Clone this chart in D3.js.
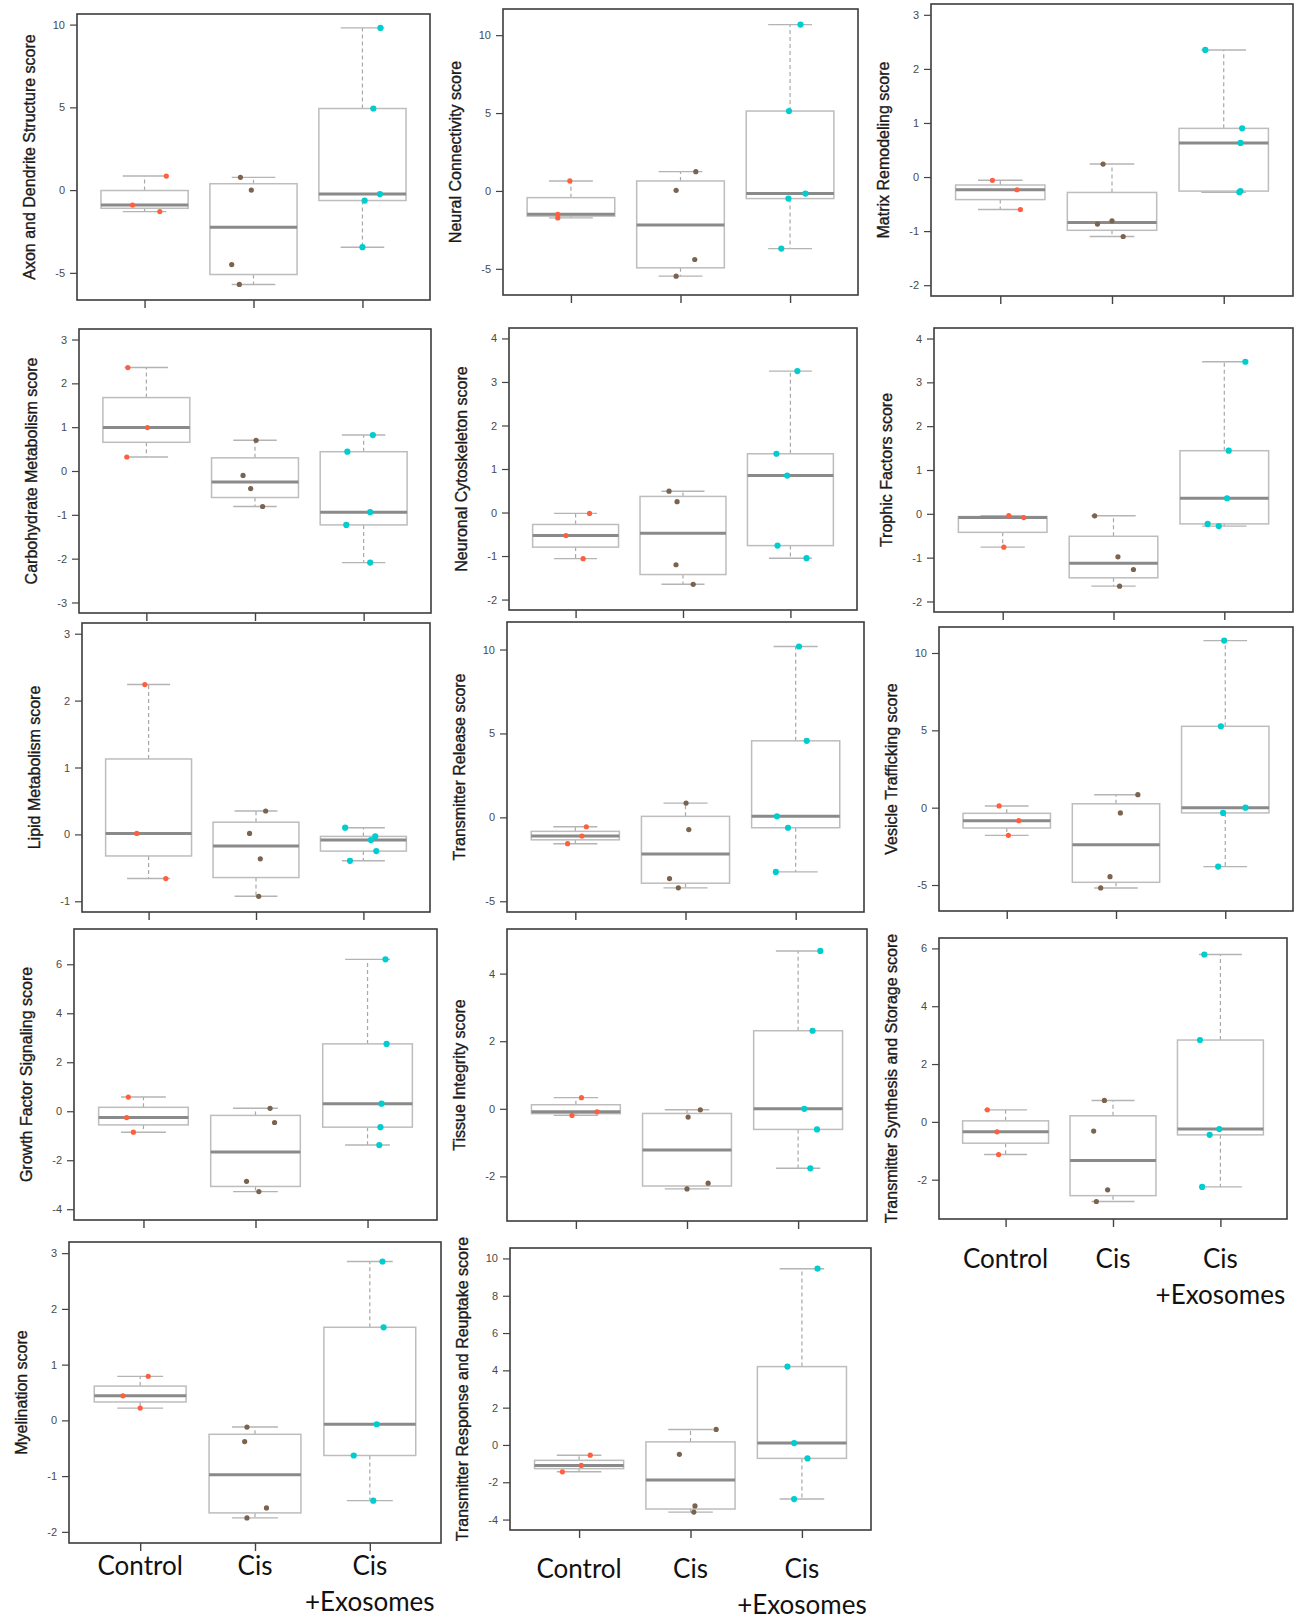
<!DOCTYPE html>
<html>
<head>
<meta charset="utf-8">
<script src="https://cdn.jsdelivr.net/npm/d3@7"></script>
<style>
  body { margin: 0; background: #fff; }
  svg { display: block; }
</style>
</head>
<body>
<svg id="chart" width="1298" height="1621"></svg>
<script>
// groups on the x axis (same three in every panel)
const groups = ["Control", "Cis", "Cis+Exosomes"];

const scoreNames = [
  "Axon and Dendrite Structure score",
  "Neural Connectivity score",
  "Matrix Remodeling score",
  "Carbohydrate Metabolism score",
  "Neuronal Cytoskeleton score",
  "Trophic Factors score",
  "Lipid Metabolism score",
  "Transmitter Release score",
  "Vesicle Trafficking score",
  "Growth Factor Signaling score",
  "Tissue Integrity score",
  "Transmitter Synthesis and Storage score",
  "Myelination score",
  "Transmitter Response and Reuptake score"
];

// ylim used by each panel (R pads these by 4%)
const yLimits = [
  [-6, 10], [-6, 11], [-2, 3],
  [-3, 3], [-2, 4], [-2, 4],
  [-1, 3], [-5, 11], [-6, 11],
  [-4, 7], [-3, 5], [-3, 6],
  [-2, 3], [-4, 10]
];

const yTicks = [
  [-5, 0, 5, 10], [-5, 0, 5, 10], [-2, -1, 0, 1, 2, 3],
  [-3, -2, -1, 0, 1, 2, 3], [-2, -1, 0, 1, 2, 3, 4], [-2, -1, 0, 1, 2, 3, 4],
  [-1, 0, 1, 2, 3], [-5, 0, 5, 10], [-5, 0, 5, 10],
  [-4, -2, 0, 2, 4, 6], [-2, 0, 2, 4], [-2, 0, 2, 4, 6],
  [-2, -1, 0, 1, 2, 3], [-4, -2, 0, 2, 4, 6, 8, 10]
];

// sample scores per panel
const controlScores = [
  [0.85, -0.9, -1.3],
  [0.64, -1.5, -1.73],
  [-0.06, -0.235, -0.6],
  [2.36, 0.99, 0.32],
  [-0.02, -0.53, -1.06],
  [-0.04, -0.085, -0.76],
  [2.24, 0.015, -0.66],
  [-0.56, -1.11, -1.57],
  [0.11, -0.84, -1.79],
  [0.58, -0.26, -0.855],
  [0.33, -0.09, -0.195],
  [0.415, -0.345, -1.13],
  [0.79, 0.44, 0.22],
  [-0.55, -1.1, -1.44]
];
const cisScores = [
  [0.77, 0.0, -4.5, -5.7],
  [1.24, 0.04, -4.4, -5.47],
  [0.24, -0.81, -0.87, -1.1],
  [0.70, -0.10, -0.40, -0.81],
  [0.49, 0.25, -1.2, -1.65],
  [-0.045, -0.98, -1.27, -1.65],
  [0.35, 0.015, -0.365, -0.925],
  [0.85, -0.73, -3.65, -4.2],
  [0.84, -0.34, -4.46, -5.19],
  [0.12, -0.46, -2.86, -3.28],
  [-0.03, -0.245, -2.2, -2.37],
  [0.74, -0.32, -2.35, -2.755],
  [-0.12, -0.38, -1.57, -1.75],
  [0.83, -0.5, -3.27, -3.6]
];
const exoScores = [
  [9.8, 4.93, -0.24, -0.63, -3.45],
  [10.68, 5.13, -0.17, -0.49, -3.7],
  [2.35, 0.9, 0.63, -0.26, -0.28],
  [0.82, 0.44, -0.94, -1.23, -2.09],
  [3.25, 1.35, 0.85, -0.76, -1.05],
  [3.47, 1.44, 0.355, -0.23, -0.28],
  [0.1, -0.03, -0.085, -0.25, -0.395],
  [10.18, 4.56, 0.06, -0.62, -3.25],
  [10.8, 5.26, 0.0, -0.34, -3.81],
  [6.2, 2.75, 0.31, -0.65, -1.38],
  [4.67, 2.31, 0.0, -0.61, -1.76],
  [5.79, 2.83, -0.25, -0.45, -2.25],
  [2.85, 1.67, -0.07, -0.63, -1.44],
  [9.45, 4.2, 0.1, -0.72, -2.9]
];

// stripchart jitter, in group units, read per point
const controlJitter = [
  [0.2, -0.11, 0.14], [-0.01, -0.12, -0.12], [-0.07, 0.15, 0.18],
  [-0.17, 0.01, -0.18], [0.13, -0.09, 0.07], [0.055, 0.19, 0.01],
  [-0.035, -0.11, 0.16], [0.1, 0.06, -0.07], [-0.07, 0.11, 0.015],
  [-0.135, -0.15, -0.09], [0.05, 0.19, -0.035], [-0.17, -0.08, -0.065],
  [0.07, -0.15, 0.0], [0.1, 0.02, -0.15]
];
const cisJitter = [
  [-0.12, -0.02, -0.2, -0.13], [0.14, -0.04, 0.13, -0.04], [-0.08, 0.0, -0.13, 0.1],
  [0.01, -0.11, -0.04, 0.07], [-0.13, -0.055, -0.065, 0.095], [-0.17, 0.04, 0.18, 0.055],
  [0.09, -0.06, 0.04, 0.025], [0.005, 0.03, -0.145, -0.065], [0.2, 0.04, -0.055, -0.14],
  [0.13, 0.17, -0.08, 0.03], [0.12, 0.01, 0.19, 0.0], [-0.08, -0.18, -0.05, -0.155],
  [-0.07, -0.09, 0.1, -0.07], [0.23, -0.1, 0.04, 0.03]
];
const exoJitter = [
  [0.165, 0.10, 0.16, 0.02, 0.0], [0.095, -0.01, 0.14, -0.015, -0.08], [-0.165, 0.165, 0.15, 0.15, 0.14],
  [0.085, -0.15, 0.06, -0.16, 0.06], [0.065, -0.13, -0.03, -0.12, 0.15], [0.19, 0.04, 0.025, -0.15, -0.05],
  [-0.17, 0.11, 0.07, 0.12, -0.125], [0.03, 0.1, -0.17, -0.07, -0.18], [-0.01, -0.04, 0.185, -0.02, -0.065],
  [0.16, 0.17, 0.125, 0.115, 0.105], [0.2, 0.13, 0.055, 0.17, 0.11], [-0.15, -0.19, -0.01, -0.1, -0.17],
  [0.11, 0.12, 0.06, -0.14, 0.03], [0.14, -0.13, -0.07, 0.05, -0.07]
];

const groupColors = ["#ff5f3f", "#7a634f", "#00cdd0"];
const dotRadius = [2.6, 2.6, 3.1];

// layout: plot frame of every panel [left, top, right, bottom]
const frames = [
  [77, 14, 430, 300], [503, 9, 858, 295], [931, 4, 1293, 296],
  [79, 329, 431, 613], [509, 328, 857, 610], [934, 328, 1293, 612],
  [82, 623, 430, 912], [507, 622, 864, 912], [939, 627, 1293, 911],
  [74, 929, 437, 1220], [507, 929, 867, 1221], [939, 938, 1287, 1219],
  [69, 1242, 441, 1543], [510, 1248, 871, 1530]
];
// panels that carry the group names underneath, with baseline offset
const groupLabelOffset = { 11: 49, 12: 32, 13: 48 };

const svg = d3.select("#chart");

// R's fivenum + boxplot.stats whisker rule
function boxStats(values) {
  const s = values.slice().sort((a, b) => a - b);
  const n = s.length;
  const n4 = Math.floor((n + 3) / 2) / 2;
  const d = [1, n4, (n + 1) / 2, n + 1 - n4, n];
  const f = d.map(k => 0.5 * (s[Math.floor(k) - 1] + s[Math.ceil(k) - 1]));
  const iqr = f[3] - f[1];
  const lo = s.find(v => v >= f[1] - 1.5 * iqr);
  const hi = s.slice().reverse().find(v => v <= f[3] + 1.5 * iqr);
  return { lo: lo, q1: f[1], med: f[2], q3: f[3], hi: hi };
}

frames.forEach((f, i) => {
  const [x0, y0, x1, y1] = f;
  const x = d3.scaleLinear().domain([0.38, 3.62]).range([x0, x1]);
  const [lo, hi] = yLimits[i];
  const pad = (hi - lo) * 0.04;
  const y = d3.scaleLinear().domain([lo - pad, hi + pad]).range([y1, y0]);

  const g = svg.append("g");
  const scores = [controlScores[i], cisScores[i], exoScores[i]];
  const jitters = [controlJitter[i], cisJitter[i], exoJitter[i]];

  // boxes
  scores.forEach((vals, gi) => {
    const st = boxStats(vals);
    const c = gi + 1;
    const bg = g.append("g");
    bg.append("line")
      .attr("x1", x(c)).attr("x2", x(c))
      .attr("y1", y(st.q3)).attr("y2", y(st.hi))
      .attr("stroke", "#a8a8a8").attr("stroke-width", 1.2)
      .attr("stroke-dasharray", "4,3");
    bg.append("line")
      .attr("x1", x(c)).attr("x2", x(c))
      .attr("y1", y(st.q1)).attr("y2", y(st.lo))
      .attr("stroke", "#a8a8a8").attr("stroke-width", 1.2)
      .attr("stroke-dasharray", "4,3");
    [st.lo, st.hi].forEach(v => {
      bg.append("line")
        .attr("x1", x(c - 0.2)).attr("x2", x(c + 0.2))
        .attr("y1", y(v)).attr("y2", y(v))
        .attr("stroke", "#b4b4b4").attr("stroke-width", 1.4);
    });
    bg.append("rect")
      .attr("x", x(c - 0.4)).attr("y", y(st.q3))
      .attr("width", x(c + 0.4) - x(c - 0.4))
      .attr("height", y(st.q1) - y(st.q3))
      .attr("fill", "none").attr("stroke", "#bdbdbd").attr("stroke-width", 1.5);
    bg.append("line")
      .attr("x1", x(c - 0.4)).attr("x2", x(c + 0.4))
      .attr("y1", y(st.med)).attr("y2", y(st.med))
      .attr("stroke", "#8a8a8a").attr("stroke-width", 3);
  });

  // jittered points
  scores.forEach((vals, gi) => {
    g.selectAll(null)
      .data(vals.map((v, k) => ({ v: v, j: jitters[gi][k] })))
      .enter().append("circle")
      .attr("cx", d => x(gi + 1 + d.j))
      .attr("cy", d => y(d.v))
      .attr("r", dotRadius[gi])
      .attr("fill", groupColors[gi]);
  });

  // frame
  g.append("rect")
    .attr("x", x0).attr("y", y0)
    .attr("width", x1 - x0).attr("height", y1 - y0)
    .attr("fill", "none").attr("stroke", "#3c3c3c").attr("stroke-width", 1.6);

  // y axis
  const ya = g.append("g")
    .attr("transform", `translate(${x0},0)`)
    .call(d3.axisLeft(y).tickValues(yTicks[i]).tickSize(7).tickPadding(5)
      .tickFormat(d => String(d)));
  ya.select(".domain").remove();
  ya.selectAll(".tick line").attr("stroke", "#444").attr("stroke-width", 1.2);
  ya.selectAll(".tick text")
    .attr("fill", "#4a4a4a")
    .style("font-family", "'Liberation Sans', Arial, sans-serif")
    .style("font-size", "11px");

  // x axis (ticks only)
  const xa = g.append("g")
    .attr("transform", `translate(0,${y1})`)
    .call(d3.axisBottom(x).tickValues([1, 2, 3]).tickSize(8).tickFormat(""));
  xa.select(".domain").remove();
  xa.selectAll(".tick line").attr("stroke", "#444").attr("stroke-width", 1.4);

  // y label
  g.append("text")
    .attr("transform", `translate(${x0 - 48},${(y0 + y1) / 2}) rotate(-90)`)
    .attr("text-anchor", "middle")
    .attr("dominant-baseline", "central")
    .style("font-family", "'Liberation Sans', Arial, sans-serif")
    .style("font-size", "16px")
    .attr("fill", "#1a1a1a")
    .attr("stroke", "#1a1a1a")
    .attr("stroke-width", 0.35)
    .text(scoreNames[i]);

  // group names under the bottom panels
  if (groupLabelOffset[i] !== undefined) {
    const base = y1 + groupLabelOffset[i];
    groups.forEach((name, gi) => {
      const t = g.append("text")
        .attr("x", x(gi + 1)).attr("y", base)
        .attr("text-anchor", "middle")
        .style("font-family", "Lato, 'Open Sans', sans-serif")
        .style("font-size", "26px")
        .attr("fill", "#111");
      const lines = name === "Cis+Exosomes" ? ["Cis", "+Exosomes"] : [name];
      lines.forEach((ln, li) => {
        t.append("tspan").attr("x", x(gi + 1)).attr("dy", li === 0 ? 0 : 36).text(ln);
      });
    });
  }
});
</script>
</body>
</html>
